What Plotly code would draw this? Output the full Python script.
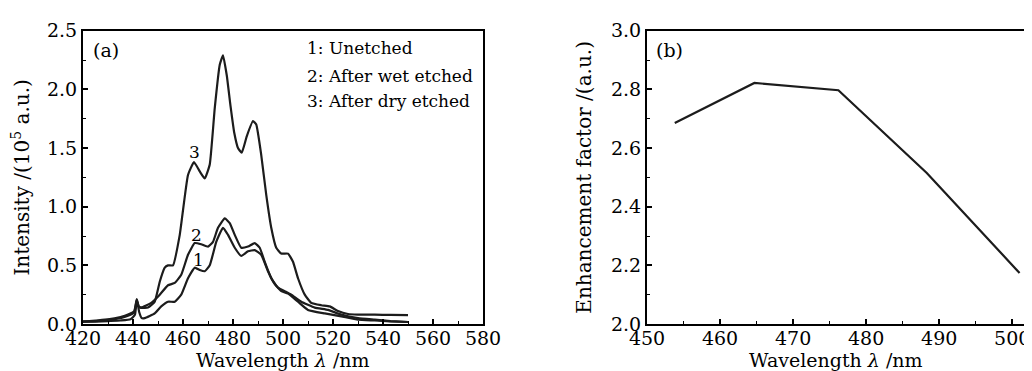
import plotly.graph_objects as go

# ---- Panel (a): PL spectra ----
wl_unetched = [420, 425, 430, 435, 439, 440.8, 441.5, 442.5, 443.5, 444.7, 448.7, 451.3, 454, 456.7,
               459.3, 462, 464.7, 466.7, 468.7, 470.7, 473.3, 476, 478, 480.7, 483.3, 486, 488.7,
               491.3, 494, 496.7, 499.3, 502, 506, 510, 516.7, 523.3, 530, 536.7, 543, 550]
int_unetched = [0.02, 0.02, 0.025, 0.03, 0.04, 0.08, 0.21, 0.10, 0.05, 0.05, 0.09, 0.15, 0.19, 0.19,
                0.25, 0.39, 0.48, 0.46, 0.45, 0.50, 0.70, 0.82, 0.76, 0.65, 0.58, 0.62, 0.63,
                0.59, 0.45, 0.34, 0.28, 0.26, 0.19, 0.12, 0.09, 0.065, 0.037, 0.03, 0.022, 0.017]

wl_wet = [420, 425, 430, 435, 438, 440.5, 441.5, 442.3, 443.3, 447.3, 450.7, 454, 456.7, 459.3, 462,
          464.7, 467.3, 470, 472, 474, 476.7, 478.7, 480.7, 483.3, 486, 488.7, 490.7, 492.7, 495.3,
          498, 500.7, 503.3, 507.3, 512.7, 518, 523.3, 530, 536.7, 543, 550]
int_wet = [0.02, 0.025, 0.035, 0.05, 0.07, 0.10, 0.20, 0.15, 0.14, 0.18, 0.25, 0.33, 0.35, 0.42, 0.59,
           0.69, 0.68, 0.66, 0.70, 0.82, 0.90, 0.86, 0.76, 0.65, 0.66, 0.69, 0.65, 0.53, 0.39,
           0.31, 0.28, 0.25, 0.19, 0.14, 0.12, 0.08, 0.05, 0.037, 0.025, 0.017]

wl_dry = [420, 425, 430, 435, 438, 440.5, 441.5, 442.3, 443, 446, 448.7, 450.7, 452.7, 454, 456, 458.7,
          462, 464.4, 466.7, 468.7, 470.7, 472.7, 474.7, 476, 477.5, 479, 480.5, 482, 483.5, 485.5,
          488, 489.3, 491.3, 493.3, 495.3, 497.3, 499.3, 502, 504, 506, 508.7, 511.3, 515.3, 518.7,
          522, 526, 530, 536.7, 543, 550]
int_dry = [0.02, 0.03, 0.04, 0.06, 0.08, 0.11, 0.21, 0.15, 0.14, 0.14, 0.19, 0.36, 0.48, 0.50, 0.50, 0.76,
           1.27, 1.38, 1.30, 1.24, 1.36, 1.84, 2.21, 2.29, 2.12, 1.86, 1.63, 1.50, 1.46, 1.60,
           1.73, 1.70, 1.44, 1.10, 0.82, 0.65, 0.60, 0.60, 0.53, 0.39, 0.25, 0.18, 0.16, 0.15,
           0.11, 0.085, 0.08, 0.08, 0.077, 0.075]

legend_lines = ["1: Unetched", "2: After wet etched", "3: After dry etched"]
curve_labels = ["1", "2", "3"]

# ---- Panel (b): enhancement factor ----
wl_b = [453.8, 464.7, 476.2, 488.3, 501.0]
enh = [2.685, 2.822, 2.797, 2.515, 2.174]

FONT = "DejaVu Serif"
LC = "#1c1c1c"

fig = go.Figure()
for xs, ys in [(wl_unetched, int_unetched), (wl_wet, int_wet), (wl_dry, int_dry)]:
    fig.add_trace(go.Scatter(x=xs, y=ys, mode="lines", line=dict(color=LC, width=2.2, shape="spline", smoothing=0.4),
                             xaxis="x", yaxis="y", showlegend=False, hoverinfo="skip"))
fig.add_trace(go.Scatter(x=wl_b, y=enh, mode="lines", line=dict(color=LC, width=2.2),
                         xaxis="x2", yaxis="y2", showlegend=False, hoverinfo="skip"))

W, H = 1032, 371
ydom = [1 - 316 / H, 1 - 22.7 / H]

axcommon = dict(showline=True, linecolor="black", linewidth=2, ticks="inside", ticklen=5, tickwidth=1.5,
                tickcolor="black", showgrid=False, zeroline=False, automargin=False,
                tickfont=dict(family=FONT, size=19, color="black"),
                title_font=dict(family=FONT, size=20, color="black"))
minor_common = dict(ticks="inside", ticklen=3, tickwidth=1.2, tickcolor="black", showgrid=False)

fig.update_layout(
    width=W, height=H, margin=dict(l=0, r=0, t=0, b=0),
    paper_bgcolor="white", plot_bgcolor="white",
    xaxis=dict(domain=[75 / W, 475 / W], range=[420, 580], dtick=20, tick0=420, mirror=True, anchor="y",
               ticklabelstandoff=-4,
               minor=dict(dtick=10, **minor_common), **axcommon),
    yaxis=dict(domain=ydom, range=[0, 2.5], dtick=0.5, tickformat=".1f", mirror=True, anchor="x",
               title=dict(text="Intensity /(10<sup>5</sup> a.u.)", standoff=12),
               minor=dict(dtick=0.25, **minor_common), **axcommon),
    xaxis2=dict(domain=[639 / W, 1.0], range=[450, 503.8], dtick=10, tick0=450, mirror=True, anchor="y2",
                ticklabelstandoff=-4,
                minor=dict(dtick=5, **minor_common), **axcommon),
    yaxis2=dict(domain=ydom, range=[2.0, 3.0], dtick=0.2, tickformat=".1f", mirror=False, anchor="x2",
                title=dict(text="Enhancement factor /(a.u.)", standoff=14),
                minor=dict(dtick=0.1, **minor_common), **axcommon),
)

ann = []
tf = dict(family=FONT, size=19, color="black")
title_font = dict(family=FONT, size=19, color="black")
for cx in [275, 828]:
    ann.append(dict(x=cx / W, y=1 - 352 / H, xref="paper", yref="paper", text="Wavelength <i>λ</i> /nm",
                    showarrow=False, xanchor="center", yanchor="middle", font=title_font))
ann.append(dict(x=423.3, y=2.336, xref="x", yref="y", text="(a)", showarrow=False, xanchor="left",
                yanchor="middle", font=tf))
ann.append(dict(x=451.0, y=2.935, xref="x2", yref="y2", text="(b)", showarrow=False, xanchor="left",
                yanchor="middle", font=tf))
for txt, yy in zip(legend_lines, [2.35, 2.11, 1.897]):
    ann.append(dict(x=508.7, y=yy, xref="x", yref="y", text=txt, showarrow=False, xanchor="left",
                    yanchor="middle", font=dict(family=FONT, size=17, color="black")))
for txt, (xx, yy) in zip(curve_labels, [(466.0, 0.548), (465.3, 0.76), (464.7, 1.47)]):
    ann.append(dict(x=xx, y=yy, xref="x", yref="y", text=txt, showarrow=False, xanchor="center",
                    yanchor="middle", font=dict(family=FONT, size=17, color="black")))
fig.update_layout(annotations=ann)

fig.write_html("out.html")
